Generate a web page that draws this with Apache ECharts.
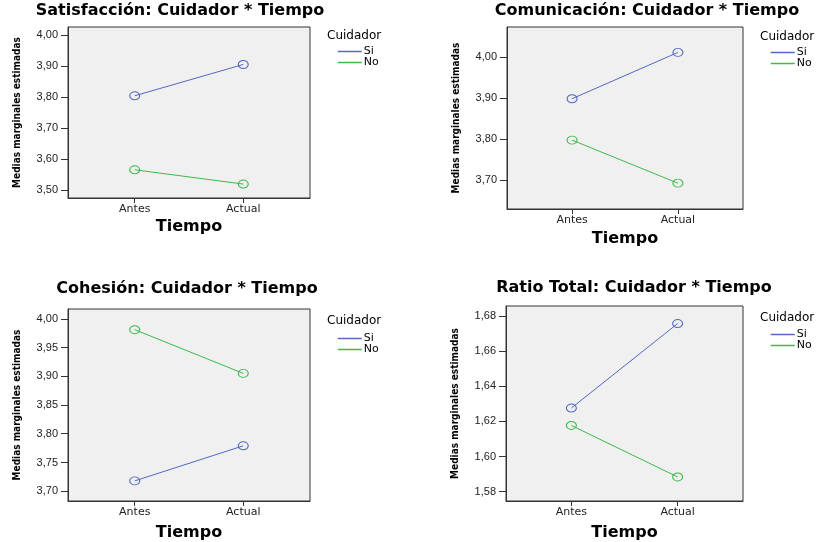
<!DOCTYPE html>
<html>
<head>
<meta charset="utf-8">
<script src="https://cdn.jsdelivr.net/npm/echarts@6/dist/echarts.min.js"></script>
<style>
  html, body { margin: 0; padding: 0; background: #fff; }
  #chart { width: 829px; height: 542px; }
</style>
</head>
<body>
<div id="chart"></div>
<script>
// categorias y valores
const tiempo = ['Antes', 'Actual']
const cuidador = ['Si', 'No']

const satSi = [3.804, 3.905]
const satNo = [3.565, 3.519]
const comSi = [3.898, 4.011]
const comNo = [3.797, 3.692]
const cohSi = [3.718, 3.779]
const cohNo = [3.981, 3.905]
const ratSi = [1.6276, 1.6757]
const ratNo = [1.6177, 1.5884]

const satTicks = [3.5, 3.6, 3.7, 3.8, 3.9, 4.0]
const comTicks = [3.7, 3.8, 3.9, 4.0]
const cohTicks = [3.70, 3.75, 3.80, 3.85, 3.90, 3.95, 4.00]
const ratTicks = [1.58, 1.60, 1.62, 1.64, 1.66, 1.68]

const BLUE = '#5468c2'
const GREEN = '#3cba4a'
const TITLE_FONT = 'bold 16px "DejaVu Sans"'

const measure = (text, font) => {
  const ctx = document.createElement('canvas').getContext('2d')
  ctx.font = font
  return ctx.measureText(text).width
}

// layout of the four panels
const panels = [
  { title: 'Satisfacción: Cuidador * Tiempo', cx: 180, ty: 3, grid: { left: 68, top: 27, width: 242, height: 171 },
    yRange: [3.474, 4.026], ticks: satTicks, si: satSi, no: satNo, nameGap: 21, lx: 327, ly: 30, ix: 337, iy: 46 },
  { title: 'Comunicación: Cuidador * Tiempo', cx: 647, ty: 3, grid: { left: 507, top: 27, width: 236, height: 182 },
    yRange: [3.629, 4.073], ticks: comTicks, si: comSi, no: comNo, nameGap: 22, lx: 760, ly: 31, ix: 770, iy: 47 },
  { title: 'Cohesión: Cuidador * Tiempo', cx: 187, ty: 281, grid: { left: 68, top: 309, width: 242, height: 193 },
    yRange: [3.683, 4.017], ticks: cohTicks, si: cohSi, no: cohNo, nameGap: 24, lx: 327, ly: 315, ix: 337, iy: 333 },
  { title: 'Ratio Total: Cuidador * Tiempo', cx: 634, ty: 280, grid: { left: 506, top: 306, width: 237, height: 195 },
    yRange: [1.5747, 1.6857], ticks: ratTicks, si: ratSi, no: ratNo, nameGap: 24, lx: 760, ly: 312, ix: 770, iy: 329 },
]

const fmt = (v) => v.toFixed(2).replace('.', ',')

const option = { animation: false, title: [], legend: [], grid: [], xAxis: [], yAxis: [], series: [] }

panels.forEach((p, i) => {
  option.title.push({
    text: p.title,
    left: p.cx - measure(p.title, TITLE_FONT) / 2,
    top: p.ty,
    padding: 0,
    textStyle: { fontFamily: 'DejaVu Sans', fontWeight: 'bold', fontSize: 16, color: '#000' },
  })
  option.title.push({
    text: 'Cuidador',
    left: p.lx,
    top: p.ly,
    padding: 0,
    textStyle: { fontFamily: 'DejaVu Sans', fontWeight: 'normal', fontSize: 12, color: '#000' },
  })
  option.legend.push({
    data: [
      { name: cuidador[0], itemStyle: { opacity: 0 }, lineStyle: { color: BLUE, width: 1.5 } },
      { name: cuidador[1], itemStyle: { opacity: 0 }, lineStyle: { color: GREEN, width: 1.5 } },
    ],
    orient: 'vertical',
    left: p.ix,
    top: p.iy,
    padding: 0,
    itemGap: 0,
    itemWidth: 24,
    itemHeight: 11,
    selectedMode: false,
    textStyle: { fontFamily: 'DejaVu Sans', fontSize: 11, lineHeight: 11, color: '#000', padding: [0, 0, 0, -3] },
  })
  option.grid.push({
    ...p.grid,
    show: true,
    backgroundColor: '#f0f0f0',
    borderColor: '#333',
    borderWidth: 1,
  })
  option.xAxis.push({
    type: 'value',
    gridIndex: i,
    min: -0.615,
    max: 1.615,
    name: 'Tiempo',
    nameLocation: 'middle',
    nameGap: p.nameGap,
    nameTextStyle: { fontFamily: 'DejaVu Sans', fontWeight: 'bold', fontSize: 16, color: '#000' },
    splitLine: { show: false },
    axisLine: { show: true, onZero: false, lineStyle: { color: '#333', width: 1 } },
    axisTick: { show: true, length: 5, customValues: [0, 1], lineStyle: { color: '#333' } },
    axisLabel: {
      customValues: [0, 1],
      formatter: (v) => tiempo[Math.round(v)],
      margin: 6,
      fontFamily: 'DejaVu Sans',
      fontSize: 11,
      color: '#222',
    },
  })
  option.yAxis.push({
    type: 'value',
    gridIndex: i,
    min: p.yRange[0],
    max: p.yRange[1],
    name: 'Medias marginales estimadas',
    nameLocation: 'middle',
    nameRotate: 90,
    nameGap: 46,
    nameTextStyle: { fontFamily: '"DejaVu Sans Condensed", "Liberation Sans"', fontWeight: 'bold', fontSize: 10, color: '#000' },
    splitLine: { show: false },
    axisLine: { show: true, onZero: false, lineStyle: { color: '#333', width: 1 } },
    axisTick: { show: true, length: 7, customValues: p.ticks, lineStyle: { color: '#333' } },
    axisLabel: {
      customValues: p.ticks,
      formatter: fmt,
      margin: 10,
      fontFamily: 'Liberation Sans',
      fontSize: 11,
      color: '#222',
    },
  })
  const lineSeries = (name, vals, color) => ({
    name,
    type: 'line',
    xAxisIndex: i,
    yAxisIndex: i,
    data: vals.map((v, k) => [k, v]),
    symbol: 'circle',
    symbolSize: [10, 8],
    color,
    lineStyle: { color, width: 1 },
    itemStyle: { color: 'rgba(0,0,0,0)', borderColor: color, borderWidth: 1 },
  })
  option.series.push(lineSeries('Si', p.si, BLUE))
  option.series.push(lineSeries('No', p.no, GREEN))
})

const chart = echarts.init(document.getElementById('chart'))
chart.setOption(option)
</script>
</body>
</html>
